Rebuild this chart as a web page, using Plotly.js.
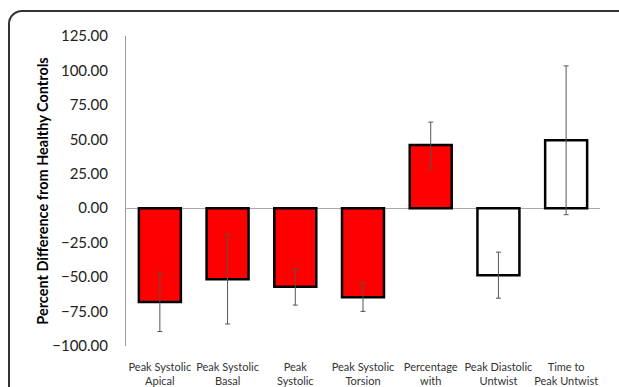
<!DOCTYPE html>
<html>
<head>
<meta charset="utf-8">
<script src="https://cdn.plot.ly/plotly-3.0.1.min.js"></script>
<style>
  html, body { margin: 0; padding: 0; background: #fff; overflow: hidden; }
  #wrap { position: relative; width: 619px; height: 387px; overflow: hidden; }
  #frame { position: absolute; left: 8px; top: 10px; width: 700px; height: 500px;
           border: 2px solid #333; border-radius: 14px; box-sizing: border-box; }
  #chart { position: absolute; left: 0; top: 0; width: 619px; height: 387px; }
</style>
</head>
<body>
<div id="wrap">
  <div id="frame"></div>
  <div id="chart"></div>
</div>
<script>
const categories = [
  "Peak Systolic<br>Apical",
  "Peak Systolic<br>Basal",
  "Peak<br>Systolic",
  "Peak Systolic<br>Torsion",
  "Percentage<br>with",
  "Peak Diastolic<br>Untwist",
  "Time to<br>Peak Untwist"
];
const values = [-68.0, -51.5, -57.0, -64.7, 45.8, -48.6, 49.3];
const errors = [21.5, 32.5, 13.3, 10.2, 16.7, 16.7, 54.0];
const barColors = ["#ff0000", "#ff0000", "#ff0000", "#ff0000", "#ff0000", "#ffffff", "#ffffff"];
const yTicks = [-100, -75, -50, -25, 0, 25, 50, 75, 100, 125];

const trace = {
  type: "bar",
  x: categories,
  y: values,
  marker: { color: barColors, line: { color: "#000", width: 2.5 } },
  error_y: { type: "data", array: errors, visible: true, color: "#555", thickness: 1, width: 2.5 },
  hoverinfo: "none"
};

const layout = {
  width: 619,
  height: 387,
  margin: { l: 126, r: 19, t: 36, b: 41 },
  paper_bgcolor: "rgba(0,0,0,0)",
  plot_bgcolor: "rgba(0,0,0,0)",
  bargap: 0.38,
  showlegend: false,
  font: { family: "Lato, 'Open Sans', sans-serif", color: "#000" },
  xaxis: {
    showgrid: false,
    showline: false,
    zeroline: false,
    ticks: "",
    tickangle: 0,
    ticklabelstandoff: 13,
    tickfont: { size: 11, color: "#333" },
    fixedrange: true
  },
  yaxis: {
    range: [-100, 125],
    tickvals: yTicks,
    tickformat: ".2f",
    showgrid: false,
    showline: true,
    linecolor: "#999",
    linewidth: 1,
    zeroline: true,
    zerolinecolor: "#aaa",
    zerolinewidth: 1,
    ticks: "",
    ticklabelstandoff: 14,
    tickfont: { size: 15, color: "#222" },
    title: { text: "<b>Percent Difference from Healthy Controls</b>", font: { size: 14.5, color: "#000" }, standoff: 0 },
    fixedrange: true
  }
};

Plotly.newPlot("chart", [trace], layout, { staticPlot: true, displayModeBar: false });
</script>
</body>
</html>
